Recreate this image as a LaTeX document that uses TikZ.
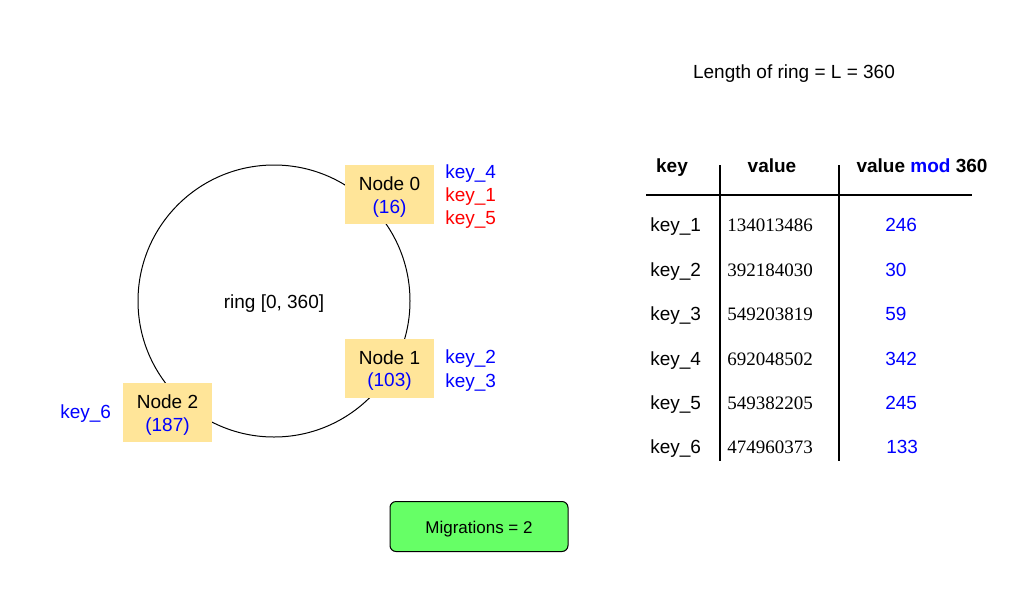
\documentclass[tikz,border=0pt]{standalone}
\usepackage{fontspec}
\setmainfont{Liberation Sans}
\newfontfamily\serifnum{Liberation Serif}
\definecolor{nodefill}{HTML}{FFE599}
\definecolor{migfill}{HTML}{66FF66}
\definecolor{kblue}{HTML}{0000FF}
\definecolor{kred}{HTML}{FF0000}
\begin{document}
\begin{tikzpicture}[x=0.75pt,y=-0.75pt,
  every node/.style={font=\fontsize{14.25pt}{17pt}\selectfont, inner sep=0pt},
  txt/.style={text height=0.9em, text depth=0.18em, yshift=-1.9pt},
  ringnode/.style={draw=black, line width=0.75pt, circle, minimum size=204pt},
  nodebox/.style={fill=nodefill, minimum width=66.75pt, minimum height=44.25pt},
  boxtext/.style={align=center, yshift=-2pt},
  keylbl/.style={txt, anchor=west, text=kblue},
  keyred/.style={txt, anchor=west, text=kred},
  hdr/.style={txt, font=\fontsize{14.25pt}{17pt}\selectfont\bfseries},
  rowkey/.style={txt, anchor=west},
  rowval/.style={txt, anchor=west, font=\fontsize{14.25pt}{17pt}\selectfont\serifnum},
  rowmod/.style={txt, anchor=west, text=kblue},
  tline/.style={draw=black, line width=0.9pt},
  migbox/.style={draw=black, fill=migfill, rounded corners=4.5pt, line width=0.75pt,
     minimum width=133.5pt, minimum height=37.5pt},
  migtext/.style={txt, font=\fontsize{12.75pt}{15pt}\selectfont}
]
\useasboundingbox (0,0) rectangle (1029,615);
\fill[white] (0,0) rectangle (1029,615);

\node[ringnode] (ring) at (274,301) {};
\node[txt] (ringlbl) at (ring.center) {ring [0, 360]};

\node[nodebox] (n0) at (389.5,194.5) {};
\node[boxtext] (n0t) at (n0.center) {Node 0\\\textcolor{kblue}{(16)}};
\node[nodebox] (n1) at (389.5,368) {};
\node[boxtext] (n1t) at (n1.center) {Node 1\\\textcolor{kblue}{(103)}};
\node[nodebox] (n2) at (167.5,412.5) {};
\node[boxtext] (n2t) at (n2.center) {Node 2\\\textcolor{kblue}{(187)}};

\node[keylbl] (k4) at (445,171) {key\_4};
\node[keyred] (k1) at (445,194) {key\_1};
\node[keyred] (k5) at (445,217) {key\_5};
\node[keylbl] (k2) at (445,356) {key\_2};
\node[keylbl] (k3) at (445,380) {key\_3};
\node[keylbl] (k6) at (60,411) {key\_6};

\node[txt] (title) at (794,71) {Length of ring = L = 360};

\node[hdr] (hkey) at (672,165) {key};
\node[hdr] (hval) at (772,165) {value};
\node[hdr] (hmod) at (922,165) {value \textcolor{kblue}{mod} 360};

\coordinate (hl1) at (646,195);
\coordinate (hl2) at (972,195);
\coordinate (v1t) at (720,165);
\coordinate (v1b) at (720,461);
\coordinate (v2t) at (839,165);
\coordinate (v2b) at (839,461);
\draw[tline] (hl1) -- (hl2);
\draw[tline] (v1t) -- (v1b);
\draw[tline] (v2t) -- (v2b);

\node[rowkey] (r1k) at (650,224) {key\_1};
\node[rowval] (r1v) at (727,224) {134013486};
\node[rowmod] (r1m) at (885,224) {246};
\node[rowkey] (r2k) at (650,269) {key\_2};
\node[rowval] (r2v) at (727,269) {392184030};
\node[rowmod] (r2m) at (885,269) {30};
\node[rowkey] (r3k) at (650,313) {key\_3};
\node[rowval] (r3v) at (727,313) {549203819};
\node[rowmod] (r3m) at (885,313) {59};
\node[rowkey] (r4k) at (650,358) {key\_4};
\node[rowval] (r4v) at (727,358) {692048502};
\node[rowmod] (r4m) at (885,358) {342};
\node[rowkey] (r5k) at (650,402) {key\_5};
\node[rowval] (r5v) at (727,402) {549382205};
\node[rowmod] (r5m) at (885,402) {245};
\node[rowkey] (r6k) at (650,446) {key\_6};
\node[rowval] (r6v) at (727,446) {474960373};
\node[rowmod] (r6m) at (886,446) {133};

\node[migbox] (mig) at (479,526.5) {};
\node[migtext] (migt) at (mig.center) {Migrations = 2};
\end{tikzpicture}
\end{document}
